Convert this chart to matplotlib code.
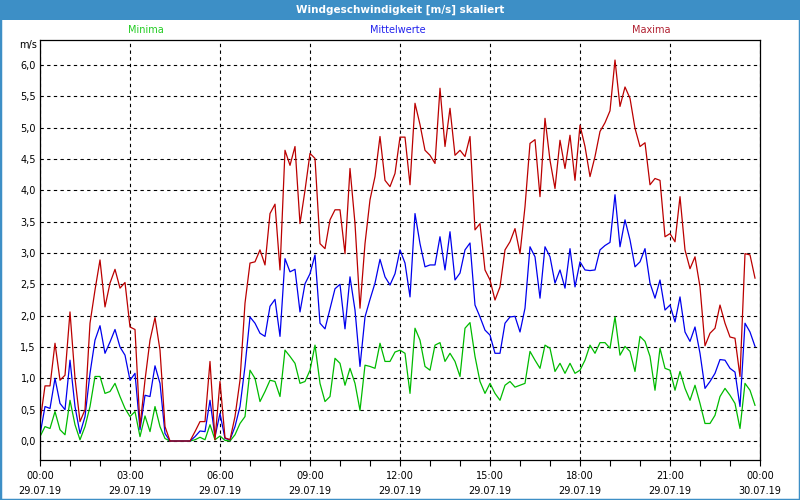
import numpy as np
import matplotlib
matplotlib.use("Agg")
import matplotlib.pyplot as plt
from matplotlib.ticker import MultipleLocator, FixedLocator

# 10-minute values, 29.07.19 00:00 .. 23:50
maxima = [0.3, 0.88, 0.88, 1.56, 0.97, 1.05, 2.06, 1.0, 0.31, 0.5,
          1.88, 2.41, 2.89, 2.14, 2.52, 2.74, 2.44, 2.53, 1.82, 1.78,
          0.23, 0.97, 1.61, 1.97, 1.45, 0.23, 0, 0, 0, 0,
          0, 0.15, 0.31, 0.31, 1.27, 0.02, 0.95, 0.05, 0.02, 0.39,
          0.97, 2.2, 2.84, 2.86, 3.05, 2.81, 3.63, 3.78, 2.73, 4.64,
          4.4, 4.7, 3.47, 4.0, 4.59, 4.51, 3.15, 3.07, 3.53, 3.69,
          3.69, 2.99, 4.35, 3.47, 2.12, 3.15, 3.85, 4.22, 4.86, 4.16,
          4.06, 4.27, 4.85, 4.85, 4.09, 5.39, 5.05, 4.64, 4.56, 4.43,
          5.63, 4.7, 5.31, 4.56, 4.64, 4.54, 4.86, 3.37, 3.47, 2.73,
          2.57, 2.25, 2.46, 3.05, 3.18, 3.39, 2.99, 3.74, 4.75, 4.81,
          3.9, 5.15, 4.48, 4.03, 4.8, 4.35, 4.88, 4.16, 5.04, 4.7,
          4.22, 4.54, 4.94, 5.08, 5.27, 6.08, 5.34, 5.65, 5.47, 4.99,
          4.7, 4.76, 4.09, 4.19, 4.16, 3.26, 3.31, 3.18, 3.9, 3.05,
          2.75, 2.94, 2.46, 1.52, 1.72, 1.8, 2.17, 1.88, 1.66, 1.64,
          1.03, 2.99, 2.97, 2.6]

mittel = [0.1, 0.55, 0.52, 1.0, 0.6, 0.5, 1.29, 0.55, 0.12, 0.39,
          1.08, 1.61, 1.84, 1.4, 1.58, 1.78, 1.5, 1.37, 0.97, 1.08,
          0.18, 0.73, 0.71, 1.2, 0.92, 0.12, 0, 0, 0, 0,
          0, 0.07, 0.16, 0.15, 0.65, 0.07, 0.44, 0.04, 0.02, 0.23,
          0.55, 1.19, 1.98, 1.88, 1.72, 1.67, 2.15, 2.26, 1.67, 2.91,
          2.7, 2.74, 2.06, 2.51, 2.67, 2.97, 1.88, 1.79, 2.11, 2.43,
          2.5, 1.79, 2.62, 2.09, 1.19, 1.98, 2.26, 2.52, 2.9, 2.62,
          2.49, 2.67, 3.05, 2.84, 2.3, 3.63, 3.15, 2.78, 2.81, 2.81,
          3.26, 2.73, 3.34, 2.57, 2.68, 3.05, 3.16, 2.17, 1.98, 1.77,
          1.69, 1.4, 1.4, 1.88, 1.98, 1.99, 1.74, 2.12, 3.1, 2.94,
          2.28, 3.1, 2.94, 2.52, 2.73, 2.44, 3.07, 2.46, 2.86, 2.73,
          2.72, 2.73, 3.05, 3.12, 3.17, 3.93, 3.1, 3.53, 3.21, 2.78,
          2.86, 3.07, 2.52, 2.28, 2.57, 2.09, 2.17, 1.9, 2.3, 1.74,
          1.59, 1.82, 1.4, 0.84, 0.95, 1.08, 1.3, 1.29, 1.16, 1.1,
          0.55, 1.88, 1.74, 1.51]

minima = [0.07, 0.23, 0.2, 0.47, 0.18, 0.1, 0.65, 0.26, 0.02, 0.23,
          0.55, 1.03, 1.03, 0.76, 0.79, 0.92, 0.71, 0.52, 0.39, 0.47,
          0.07, 0.4, 0.15, 0.55, 0.23, 0.04, 0, 0, 0, 0,
          0, 0.02, 0.06, 0.02, 0.26, 0.02, 0.08, 0.01, 0, 0.1,
          0.28, 0.39, 1.13, 1.0, 0.63, 0.79, 0.97, 0.95, 0.71, 1.45,
          1.35, 1.24, 0.92, 0.95, 1.13, 1.53, 0.92, 0.63, 0.71, 1.32,
          1.24, 0.89, 1.16, 0.92, 0.49, 1.21, 1.19, 1.16, 1.56, 1.27,
          1.27, 1.42, 1.45, 1.4, 0.76, 1.8, 1.61, 1.19, 1.13, 1.53,
          1.57, 1.27, 1.4, 1.27, 1.03, 1.8, 1.89, 1.35, 0.95, 0.76,
          0.92, 0.76, 0.65, 0.89, 0.95, 0.86, 0.89, 0.92, 1.43, 1.29,
          1.16, 1.53, 1.48, 1.11, 1.24, 1.08, 1.24, 1.08, 1.13, 1.29,
          1.53, 1.4, 1.57, 1.57, 1.48, 1.98, 1.37, 1.51, 1.43, 1.11,
          1.67, 1.59, 1.35, 0.81, 1.48, 1.16, 1.13, 0.81, 1.11, 0.84,
          0.65, 0.89, 0.6, 0.28, 0.28, 0.41, 0.71, 0.84, 0.73, 0.6,
          0.2, 0.92, 0.81, 0.57]

hours = np.arange(len(maxima)) / 6.0
tick_hours = [0, 3, 6, 9, 12, 15, 18, 21, 24]
tick_labels = ["00:00\n29.07.19", "03:00\n29.07.19", "06:00\n29.07.19",
               "09:00\n29.07.19", "12:00\n29.07.19", "15:00\n29.07.19",
               "18:00\n29.07.19", "21:00\n29.07.19", "00:00\n30.07.19"]

frame_blue = '#3d8fc6'

fig = plt.figure(figsize=(8, 5), dpi=100)
fig.patch.set_facecolor('white')

# window frame + title bar
fig.patches.append(plt.Rectangle((0, 0), 1, 1, transform=fig.transFigure,
                                 fill=False, edgecolor=frame_blue, lw=2.5))
fig.patches.append(plt.Rectangle((0, 1 - 20 / 500), 1, 20 / 500, transform=fig.transFigure,
                                 facecolor=frame_blue, edgecolor='none'))
fig.text(0.5, 1 - 10 / 500, "Windgeschwindigkeit [m/s] skaliert", color='white',
         fontsize=7.5, fontweight='bold', ha='center', va='center')

ax = fig.add_axes([40 / 800, 40 / 500, 720 / 800, 420 / 500])
ax.plot(hours, minima, color='#00bb00', lw=0.9)
ax.plot(hours, mittel, color='#0000ee', lw=0.9)
ax.plot(hours, maxima, color='#bb0000', lw=0.9)

ax.set_xlim(0, 24)
ax.set_ylim(-0.303, 6.4)
ax.xaxis.set_major_locator(FixedLocator(tick_hours))
ax.xaxis.set_minor_locator(MultipleLocator(1))
ax.set_xticklabels(tick_labels, fontsize=7, linespacing=1.6)
ax.yaxis.set_major_locator(FixedLocator(np.arange(0, 6.01, 0.5)))
ax.set_yticklabels([f"{v:.1f}".replace('.', ',') for v in np.arange(0, 6.01, 0.5)], fontsize=7)
ax.tick_params(axis='x', which='both', direction='out', length=4, width=0.8, pad=4)
ax.tick_params(axis='y', length=0, pad=3)
ax.grid(True, which='major', color='black', linestyle=(0, (3, 3)), lw=0.8)
for s in ax.spines.values():
    s.set_linewidth(0.9)

fig.text(37 / 800, 1 - 45 / 500, "m/s", fontsize=7, ha='right', va='center')
fig.text(146 / 800, 1 - 30 / 500, "Minima", fontsize=7, color='#22cc22', ha='center', va='center')
fig.text(398 / 800, 1 - 30 / 500, "Mittelwerte", fontsize=7, color='#2222ee', ha='center', va='center')
fig.text(651 / 800, 1 - 30 / 500, "Maxima", fontsize=7, color='#b02030', ha='center', va='center')

fig.savefig('out.png', dpi=100)
